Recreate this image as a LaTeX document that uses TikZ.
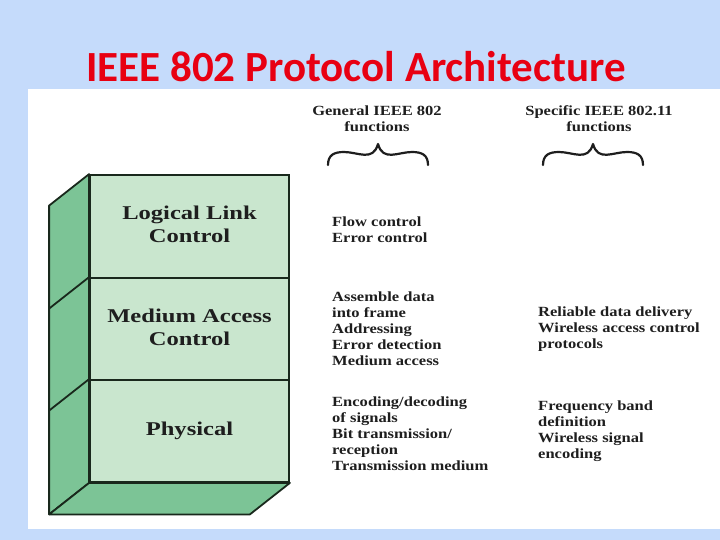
\documentclass[tikz,border=0pt]{standalone}
\usepackage{fontspec}
\usepackage{graphicx}
\setmainfont{Liberation Serif}
\newfontfamily\titlefont{Carlito}
\usetikzlibrary{calc}
\definecolor{bgblue}{RGB}{197,219,251}
\definecolor{titlered}{RGB}{232,0,18}
\definecolor{facegreen}{RGB}{201,230,206}
\definecolor{sidegreen}{RGB}{124,196,150}
\definecolor{edgecol}{RGB}{25,40,28}
\definecolor{txt}{RGB}{30,30,30}
\newcommand\widetab[1]{\scalebox{1.18}[1]{\begin{tabular}[t]{@{}l@{}}#1\end{tabular}}}
\newcommand\widehead[1]{\scalebox{1.18}[1]{\begin{tabular}[t]{@{}c@{}}#1\end{tabular}}}
\newcommand\widelayer[1]{\scalebox{1.26}[1]{\begin{tabular}{@{}c@{}}#1\end{tabular}}}
\begin{document}
\begin{tikzpicture}[x=1pt,y=-1pt,
  layer/.style={draw=edgecol, fill=facegreen, line width=1.8pt, minimum width=199pt, inner sep=0pt, text=txt, font=\bfseries\fontsize{19.5}{23}\selectfont},
  side/.style={draw=edgecol, fill=sidegreen, line width=1.8pt, line join=round},
  edgeline/.style={draw=edgecol, line width=1.8pt},
  body/.style={anchor=base west, inner sep=0pt, text=txt, font=\bfseries\fontsize{14}{16}\selectfont},
  head/.style={anchor=base, inner sep=0pt, text=txt, font=\bfseries\fontsize{14}{15.5}\selectfont},
  curlybrace/.pic={\draw[draw=txt, line width=2.2pt, line cap=round, line join=round]
     (0,0) .. controls (0,-10) and (6,-13) .. (16,-13)
     .. controls (30,-13) and (45,-3) .. (50,-21)
     .. controls (55,-3) and (70,-13) .. (84,-13)
     .. controls (94,-13) and (100,-10) .. (100,0);}]
\useasboundingbox (0,0) rectangle (720,540);
\fill[bgblue] (0,0) rectangle (720,540);
\fill[white] (28,89) rectangle (720,529);
\node[anchor=base, inner sep=0pt, text=titlered, font=\titlefont\bfseries\fontsize{43}{50}\selectfont] (title) at (356,82) {IEEE 802 Protocol Architecture};
% front layers
\node[layer, minimum height=103pt] (llc) at (189.5,226.5) {\widelayer{Logical Link\\Control}};
\node[layer, minimum height=102pt] (mac) at (189.5,329) {\widelayer{Medium Access\\Control}};
\node[layer, minimum height=102pt] (phy) at (189.5,431) {\widelayer{Physical}};
% side faces
\draw[side] (llc.north west) -- ++(-40,31.5) -- ($(phy.south west)+(-40,31.5)$) -- (phy.south west) -- cycle;
\draw[side] (phy.south west) -- (phy.south east) -- ++(-40,31.5) -- ($(phy.south west)+(-40,31.5)$) -- cycle;
\draw[edgeline] (mac.north west) -- ++(-40,31.5);
\draw[edgeline] (phy.north west) -- ++(-40,31.5);
% headers
\node[head] (genhead) at (377,116) {\widehead{General IEEE 802\\functions}};
\node[head] (spechead) at (599,116) {\widehead{Specific IEEE 802.11\\functions}};
\pic at (328,165) {curlybrace};
\pic at (543,165) {curlybrace};
% body text
\node[body] (llcgen) at (332,226) {\widetab{Flow control\\Error control}};
\node[body] (macgen) at (332,301) {\widetab{Assemble data\\into frame\\Addressing\\Error detection\\Medium access}};
\node[body] (phygen) at (332,406) {\widetab{Encoding/decoding\\of signals\\Bit transmission/\\reception\\Transmission medium}};
\node[body] (macspec) at (538,316) {\widetab{Reliable data delivery\\Wireless access control\\protocols}};
\node[body] (physpec) at (538,410) {\widetab{Frequency band\\definition\\Wireless signal\\encoding}};
\end{tikzpicture}
\end{document}
